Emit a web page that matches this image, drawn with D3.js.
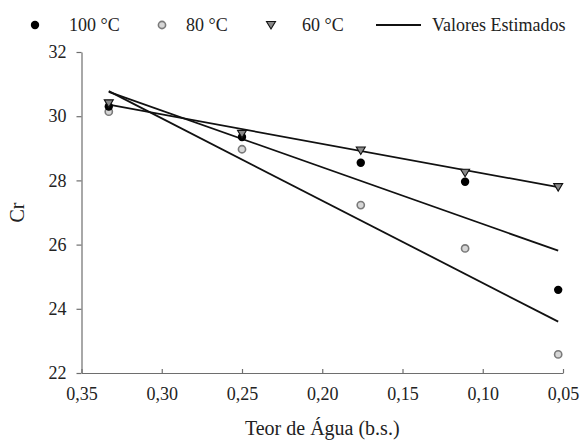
<!DOCTYPE html>
<html>
<head>
<meta charset="utf-8">
<script src="https://cdn.jsdelivr.net/npm/d3@7"></script>
<style>
  html, body { margin: 0; padding: 0; background: #fff; }
  svg { display: block; }
  svg text { font-family: "Liberation Serif", "DejaVu Serif", serif !important; }
</style>
</head>
<body>
<svg id="chart" width="581" height="441"></svg>
<script>
// ---- data ----
const teorAgua = [0.333, 0.250, 0.176, 0.111, 0.053];
const cr100 = [30.30, 29.35, 28.55, 27.96, 24.59];
const cr80  = [30.14, 28.97, 27.23, 25.88, 22.58];
const cr60  = [30.40, 29.45, 28.93, 28.24, 27.79];
// estimated (fitted) values at the ends of the range
const estX   = [0.333, 0.053];
const est100 = [30.76, 25.81];
const est80  = [30.78, 23.60];
const est60  = [30.36, 27.79];
const xTicks = [0.35, 0.30, 0.25, 0.20, 0.15, 0.10, 0.05];
const yTicks = [22, 24, 26, 28, 30, 32];
const legendLabels = ["100 °C", "80 °C", "60 °C", "Valores Estimados"];

// ---- layout ----
const serif = '"Liberation Serif", serif';
const svg = d3.select("#chart");
const x = d3.scaleLinear().domain([0.35, 0.05]).range([81.5, 563]);
const y = d3.scaleLinear().domain([22, 32]).range([373, 52]);
const fmt = d => d3.format(".2f")(d).replace(".", ",");
const axisColor = "#6e6e6e";

// axes
const gx = svg.append("g").attr("transform", `translate(0,${y(22)})`)
  .call(d3.axisBottom(x).tickValues(xTicks).tickFormat(fmt).tickSizeInner(-4).tickSizeOuter(0).tickPadding(16));
const gy = svg.append("g").attr("transform", `translate(${x(0.35)},0)`)
  .call(d3.axisLeft(y).tickValues(yTicks).tickFormat(d3.format("d")).tickSizeInner(5).tickSizeOuter(0).tickPadding(10));
[gx, gy].forEach(g => {
  g.attr("font-family", serif).attr("font-size", 18);
  g.select(".domain").attr("stroke", axisColor).attr("stroke-width", 1.2);
  g.selectAll(".tick line").attr("stroke", axisColor).attr("stroke-width", 1.2);
  g.selectAll(".tick text").attr("fill", "#222").attr("font-family", serif).attr("font-size", 18);
});
gx.selectAll(".tick text").attr("y", 14);

// axis titles
svg.append("text").attr("x", (x(0.35) + x(0.05)) / 2).attr("y", 435)
  .attr("text-anchor", "middle").attr("font-family", serif).attr("font-size", 20).attr("fill", "#222")
  .text("Teor de Água (b.s.)");
svg.append("text").attr("transform", `translate(24,${(y(22) + y(32)) / 2}) rotate(-90)`)
  .attr("text-anchor", "middle").attr("font-family", serif).attr("font-size", 20).attr("fill", "#222")
  .text("Cr");

// fitted lines
const line = d3.line().x(d => x(d[0])).y(d => y(d[1]));
[est100, est80, est60].forEach(est => {
  svg.append("path").datum(d3.zip(estX, est)).attr("d", line)
    .attr("fill", "none").attr("stroke", "#111").attr("stroke-width", 1.8);
});

// markers
const triPath = "M-4.5,-3.5L4.5,-3.5L0,4Z";
function drawDot(g, cx, cy) {
  g.append("circle").attr("cx", cx).attr("cy", cy).attr("r", 4.2).attr("fill", "#000");
}
function drawGrey(g, cx, cy) {
  g.append("circle").attr("cx", cx).attr("cy", cy).attr("r", 3.6)
    .attr("fill", "#d6d6d6").attr("stroke", "#7a7a7a").attr("stroke-width", 1.6);
}
function drawTri(g, cx, cy) {
  g.append("path").attr("d", triPath).attr("transform", `translate(${cx},${cy})`)
    .attr("fill", "#888").attr("stroke", "#111").attr("stroke-width", 1.1);
}
const gm = svg.append("g");
teorAgua.forEach((t, i) => drawGrey(gm, x(t), y(cr80[i])));
teorAgua.forEach((t, i) => drawDot(gm, x(t), y(cr100[i])));
teorAgua.forEach((t, i) => drawTri(gm, x(t), y(cr60[i])));

// legend
const ly = 25;
const lg = svg.append("g");
drawDot(lg, 35, ly);
drawGrey(lg, 162, ly);
drawTri(lg, 271, ly);
lg.append("line").attr("x1", 376).attr("x2", 421).attr("y1", ly).attr("y2", ly)
  .attr("stroke", "#111").attr("stroke-width", 1.8);
const lx = [69, 186, 302, 432];
legendLabels.forEach((t, i) => {
  lg.append("text").attr("x", lx[i]).attr("y", ly + 6).attr("font-family", serif).attr("font-size", 18)
    .attr("fill", "#222").text(t);
});
</script>
</body>
</html>
